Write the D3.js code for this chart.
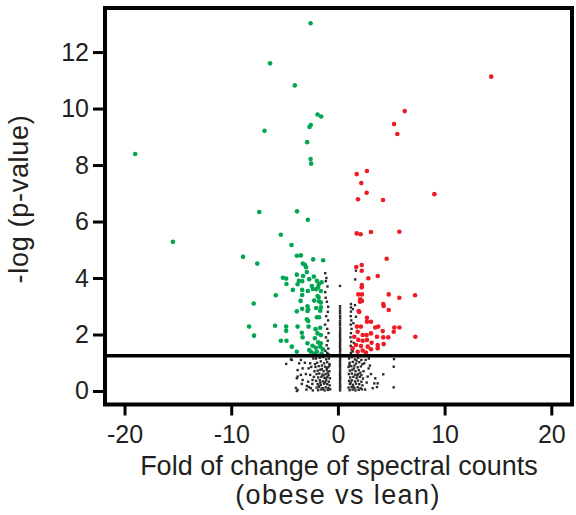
<!DOCTYPE html>
<html><head><meta charset="utf-8">
<script src="https://cdn.jsdelivr.net/npm/d3@7"></script>
<style>body{margin:0;background:#fff}svg{display:block}</style>
</head><body>
<svg id="c" width="576" height="515"></svg>
<script>
// ---- data: [fold change, -log(p)] ----
const xTicks = [-20, -10, 0, 10, 20];
const yTicks = [0, 2, 4, 6, 8, 10, 12];
const threshold = 1.25;

const greenPoints = [
[-19.0,8.39],[-15.47,5.28],[-2.56,13.02],[-6.36,11.6],[-4.04,10.82],[-1.91,9.79],[-1.57,9.72],[-2.54,9.42],[-2.66,9.35],[-6.88,9.21],
[-2.88,8.81],[-2.56,8.21],[-2.51,8.05],[-7.37,6.34],[-3.83,6.36],[-2.82,6.06],[-5.35,5.53],[-4.35,5.17],[-8.89,4.75],[-7.56,4.51],
[-3.85,4.79],[-3.47,4.80],[-2.32,4.66],[-1.38,4.63],[-3.29,4.51],[-3.10,4.47],[-2.98,4.38],[-2.91,4.21],[-3.85,4.12],[-3.26,4.07],
[-2.25,4.05],[-5.16,4.01],[-4.85,3.98],[-3.66,3.90],[-3.35,3.89],[-2.69,3.96],[-1.97,3.90],[-1.78,3.79],[-1.53,3.85],[-4.82,3.79],
[-3.78,3.78],[-2.44,3.72],[-1.85,3.68],[-4.23,3.58],[-3.35,3.58],[-2.82,3.54],[-2.35,3.61],[-2.04,3.60],[-1.60,3.54],[-5.82,3.39],
[-3.35,3.40],[-1.91,3.36],[-1.81,3.32],[-3.50,3.19],[-2.23,3.20],[-1.78,3.18],[-1.60,3.13],[-7.89,3.10],[-2.85,3.00],[-3.35,2.91],
[-2.79,2.89],[-2.04,2.94],[-1.60,2.96],[-1.66,2.84],[-3.85,2.82],[-1.97,2.61],[-2.91,2.54],[-1.76,2.61],[-8.33,2.28],[-7.86,1.96],
[-5.89,2.31],[-4.85,2.28],[-4.85,2.13],[-5.35,1.78],[-4.82,1.78],[-3.78,2.28],[-3.38,2.06],[-3.31,1.90],[-2.79,2.48],[-2.75,2.28],
[-2.09,2.19],[-1.66,2.24],[-1.91,2.04],[-1.60,1.98],[-2.16,1.87],[-2.85,1.69],[-1.85,1.72],[-1.60,1.69],[-2.38,1.60],[-2.07,1.53],
[-1.66,1.57],[-4.32,1.57],[-3.85,1.39],[-2.54,1.39],[-1.97,1.39],[-1.41,1.48],[-1.53,1.33],[-2.69,1.45],[-2.23,1.33],[-2.85,2.83]
];

const redPoints = [
[14.37,11.13],[6.26,9.91],[5.26,9.45],[5.57,9.10],[1.76,7.68],[2.72,7.79],[2.19,7.36],[2.69,7.02],[1.88,6.79],[4.23,6.76],
[9.04,6.97],[1.76,5.58],[2.13,5.55],[3.10,5.63],[5.76,5.64],[4.57,4.68],[1.72,4.39],[2.23,4.46],[2.23,4.26],[3.73,4.07],
[2.85,3.99],[2.25,3.75],[2.23,3.67],[1.91,3.42],[2.25,3.42],[4.76,3.42],[7.23,3.39],[5.76,3.30],[2.09,3.25],[2.07,3.16],
[2.25,3.19],[4.25,3.08],[4.29,3.01],[4.76,2.87],[1.94,2.83],[2.00,2.80],[2.72,2.59],[1.78,2.28],[2.16,2.28],[2.72,2.45],
[3.10,2.45],[3.50,2.25],[3.78,2.28],[4.20,2.12],[5.29,2.25],[5.76,2.25],[5.23,2.10],[1.85,2.10],[2.32,1.98],[2.69,1.98],
[3.10,2.04],[3.66,1.92],[4.25,1.90],[4.72,1.90],[7.26,1.92],[1.53,1.92],[1.91,1.81],[2.32,1.78],[2.72,1.81],[3.16,1.71],
[3.73,1.63],[4.29,1.66],[1.69,1.63],[2.16,1.59],[2.79,1.57],[1.38,1.51],[2.32,1.43],[3.10,1.48],[3.73,1.51],[1.85,1.39],
[2.63,1.36]
];

const blackPoints = [
// left column above threshold
[-1.19,4.17],[-1.13,3.89],[-1.19,3.50],[-1.03,3.16],[-0.91,2.98],[-1.08,4.0],[-0.98,3.7],[-1.15,3.3],[-0.95,2.8],[-1.1,2.65],
[-0.92,2.5],[-1.2,2.35],[-1.0,2.2],[-0.88,2.05],[-1.12,1.9],[-0.95,1.78],[-1.05,1.62],[-0.9,1.5],[-1.18,1.42],[-1.0,1.35],[-0.86,1.3],
// left dense
[-2.05,1.15],[-1.7,1.18],[-1.4,1.2],[-1.1,1.12],[-0.85,1.15],[-1.95,1.0],[-1.6,1.05],[-1.3,0.98],[-1.0,1.02],[-0.78,0.95],
[-2.1,0.85],[-1.8,0.88],[-1.5,0.9],[-1.2,0.86],[-0.9,0.84],[-1.9,0.72],[-1.65,0.75],[-1.35,0.7],[-1.05,0.74],[-0.8,0.7],
[-2.0,0.6],[-1.75,0.62],[-1.45,0.58],[-1.15,0.6],[-0.88,0.57],[-1.85,0.48],[-1.55,0.5],[-1.25,0.46],[-0.98,0.5],[-0.75,0.45],
[-2.05,0.36],[-1.7,0.38],[-1.4,0.34],[-1.1,0.37],[-0.85,0.33],[-1.9,0.25],[-1.6,0.22],[-1.3,0.26],[-1.0,0.24],[-0.78,0.2],
[-2.0,0.12],[-1.75,0.14],[-1.45,0.1],[-1.15,0.13],[-0.9,0.1],[-1.85,0.03],[-1.55,0.05],[-1.25,0.02],[-0.95,0.04],[-0.72,0.06],
[-1.65,0.3],[-1.35,0.55],[-1.05,0.82],[-1.5,0.78],[-1.2,0.3],[-0.95,0.65],[-1.8,0.18],[-1.4,0.08],[-1.1,0.45],[-0.8,0.9],
// left scattered
[-4.85,0.96],[-4.41,1.12],[-3.85,0.0],[-3.38,0.25],[-3.78,0.51],[-4.32,1.1],[-3.47,1.1],[-3.63,0.98],[-3.31,0.8],[-3.78,0.74],
[-3.47,0.57],[-3.85,0.45],[-3.31,0.39],[-3.78,0.04],[-2.79,0.33],[-2.91,0.18],[-2.54,0.1],[-2.38,0.39],[-2.6,0.57],[-2.75,0.8],
[-2.6,0.98],[-3.94,0.11],[-2.72,0.14],[-2.3,1.15],[-2.2,0.7],[-2.4,0.25],[-2.25,0.5],[-3.1,1.0],[-3.0,0.6],[-2.95,0.05],
[-2.5,0.85],[-2.15,0.95],[-2.35,0.02],
// centre column
[0.2,0.02],[0.2,0.09],[0.2,0.15],[0.21,0.2],[0.2,0.27],[0.2,0.34],[0.2,0.41],[0.21,0.46],[0.2,0.53],[0.2,0.6],
[0.2,0.66],[0.2,0.73],[0.21,0.8],[0.2,0.87],[0.2,0.93],[0.2,1.0],[0.2,1.07],[0.21,1.13],[0.2,1.2],[0.2,1.27],
[0.2,1.33],[0.2,1.41],[0.21,1.47],[0.2,1.53],[0.2,1.6],[0.2,1.66],[0.2,1.74],[0.21,1.8],[0.2,1.87],[0.2,1.94],
[0.2,2.01],[0.2,2.08],[0.21,2.16],[0.2,2.24],[0.2,2.33],[0.2,2.41],[0.2,2.49],[0.21,2.58],[0.2,2.66],[0.2,2.75],
[0.2,2.83],[0.2,2.92],[0.2,3.0],[0.2,3.72],
// right column above threshold
[1.22,3.08],[1.22,2.96],[1.6,3.04],[1.22,2.81],[1.69,2.63],[1.69,4.26],[1.62,3.95],[1.2,2.65],[1.25,2.5],[1.2,2.35],
[1.28,2.2],[1.22,2.05],[1.18,1.9],[1.25,1.75],[1.2,1.6],[1.3,1.45],[1.22,1.35],[1.4,2.9],[1.45,2.4],[1.5,1.7],[1.4,1.4],
// right dense
[1.05,1.15],[1.3,1.2],[1.6,1.12],[1.9,1.18],[2.2,1.1],[1.1,1.0],[1.4,1.03],[1.7,0.97],[2.0,1.02],[2.3,0.95],
[1.0,0.85],[1.25,0.88],[1.55,0.9],[1.85,0.84],[2.15,0.87],[1.12,0.72],[1.35,0.75],[1.65,0.7],[1.95,0.74],[2.4,0.7],
[1.02,0.6],[1.3,0.62],[1.6,0.58],[1.9,0.6],[2.2,0.56],[1.15,0.48],[1.45,0.5],[1.75,0.46],[2.05,0.5],[2.35,0.44],
[1.05,0.36],[1.3,0.38],[1.6,0.34],[1.88,0.37],[2.2,0.33],[1.12,0.25],[1.4,0.22],[1.7,0.26],[2.0,0.24],[2.3,0.2],
[1.0,0.12],[1.28,0.14],[1.55,0.1],[1.85,0.13],[2.12,0.1],[1.1,0.03],[1.38,0.05],[1.65,0.02],[1.95,0.04],[2.25,0.06],
[1.2,0.3],[1.5,0.8],[1.8,0.55],[1.08,0.92],[1.45,0.15],[1.75,1.08],[2.1,0.65],
// right scattered
[5.26,1.13],[5.23,0.86],[4.25,0.59],[5.23,0.13],[3.26,0.1],[3.73,0.27],[2.79,0.51],[2.88,0.8],[2.47,0.98],[3.41,0.27],
[3.66,0.14],[2.6,1.1],[3.0,0.9],[2.7,0.3],[3.1,0.6],[2.55,0.05],[2.9,1.15],[3.5,0.45]
];

const xLabel1 = "Fold of change of spectral counts";
const xLabel2 = "(obese vs lean)";
const yLabel = "-log (p-value)";

// ---- drawing ----
const svg = d3.select("#c");
const L = 105, R = 572, T = 8, B = 404.5;
const x = d3.scaleLinear().domain([-21.83, 21.94]).range([L, R]);
const y = d3.scaleLinear().domain([-0.478, 13.56]).range([B, T]);
const font = "'Liberation Sans', Arial, Helvetica, sans-serif";

// points
const g = svg.append("g");
g.selectAll("rect.b").data(blackPoints).join("rect")
  .attr("x", d => x(d[0]) - 1.2).attr("y", d => y(d[1]) - 1.2)
  .attr("width", 2.4).attr("height", 2.4).attr("fill", "#2b2b2b");
g.selectAll("circle.g").data(greenPoints).join("circle")
  .attr("cx", d => x(d[0])).attr("cy", d => y(d[1])).attr("r", 2.3)
  .attr("fill", "#00a651");
g.selectAll("circle.r").data(redPoints).join("circle")
  .attr("cx", d => x(d[0])).attr("cy", d => y(d[1])).attr("r", 2.3)
  .attr("fill", "#ed1c24");

// threshold line
svg.append("line").attr("x1", L).attr("x2", R).attr("y1", y(threshold)).attr("y2", y(threshold))
  .attr("stroke", "#000").attr("stroke-width", 3.5);

// frame
svg.append("rect").attr("x", L).attr("y", T).attr("width", R - L).attr("height", B - T)
  .attr("fill", "none").attr("stroke", "#000").attr("stroke-width", 4);

// axes
const xa = svg.append("g").attr("transform", `translate(0,${B})`)
  .call(d3.axisBottom(x).tickValues(xTicks).tickSize(11).tickPadding(10).tickFormat(d3.format("d")));
const ya = svg.append("g").attr("transform", `translate(${L},0)`)
  .call(d3.axisLeft(y).tickValues(yTicks).tickSize(12).tickPadding(4).tickFormat(d3.format("d")));
[xa, ya].forEach(a => {
  a.select(".domain").remove();
  a.selectAll(".tick line").attr("stroke", "#000").attr("stroke-width", 3);
  a.selectAll(".tick text").attr("font-family", font).attr("font-size", 25).attr("fill", "#231f20");
});
xa.selectAll(".tick text").text(d => d < 0 ? "-" + Math.abs(d) : d);

// labels
svg.append("text").attr("x", 339).attr("y", 475).attr("text-anchor", "middle")
  .attr("font-family", font).attr("font-size", 27).attr("fill", "#231f20").text(xLabel1);
svg.append("text").attr("x", 338).attr("y", 504).attr("text-anchor", "middle")
  .attr("font-family", font).attr("font-size", 27).attr("letter-spacing", 1.4).attr("fill", "#231f20").text(xLabel2);
svg.append("text").attr("transform", "translate(28,199) rotate(-90)").attr("text-anchor", "middle")
  .attr("font-family", font).attr("font-size", 27).attr("letter-spacing", 0.7).attr("fill", "#231f20").text(yLabel);
</script>
</body></html>
